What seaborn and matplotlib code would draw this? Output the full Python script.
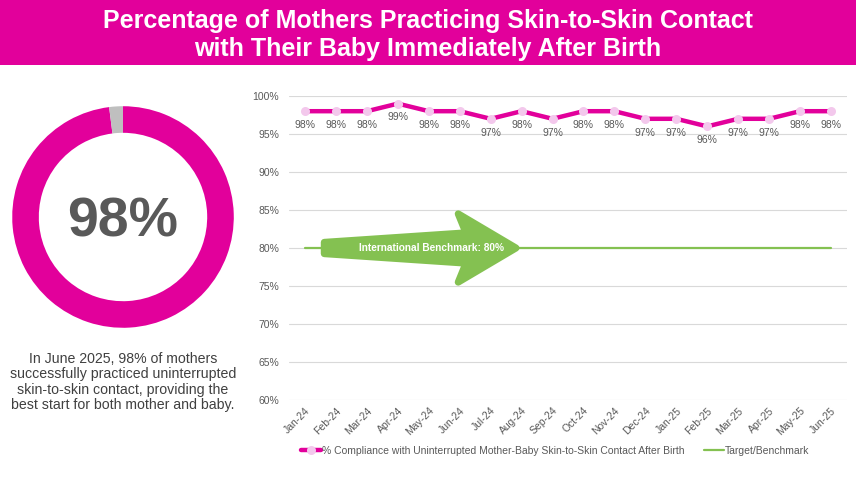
import numpy as np
import pandas as pd
import seaborn as sns
import matplotlib.pyplot as plt
from matplotlib.patches import Polygon, Rectangle

months = ['Jan-24', 'Feb-24', 'Mar-24', 'Apr-24', 'May-24', 'Jun-24', 'Jul-24', 'Aug-24', 'Sep-24',
          'Oct-24', 'Nov-24', 'Dec-24', 'Jan-25', 'Feb-25', 'Mar-25', 'Apr-25', 'May-25', 'Jun-25']
compliance = [98, 98, 98, 99, 98, 98, 97, 98, 97, 98, 98, 97, 97, 96, 97, 97, 98, 98]
benchmark = [80] * len(months)
latest = 98
series_label = '% Compliance with Uninterrupted Mother-Baby Skin-to-Skin Contact After Birth'
bench_label = 'Target/Benchmark'
title = 'Percentage of Mothers Practicing Skin-to-Skin Contact\nwith Their Baby Immediately After Birth'
caption = ('In June 2025, 98% of mothers\nsuccessfully practiced uninterrupted\n'
           'skin-to-skin contact, providing the\nbest start for both mother and baby.')

MAGENTA = '#E2009B'
PINK = '#F3C8EC'
GREEN = '#84C151'
GREY = '#595959'

sns.set_theme(style='white')
plt.rcParams['font.family'] = ['Liberation Sans', 'DejaVu Sans']

df = pd.DataFrame({'idx': np.arange(len(months)), 'month': months,
                   'value': compliance, 'bench': benchmark})

fig = plt.figure(figsize=(8.56, 4.82), dpi=100)

# title band
fig.patches.append(Rectangle((0, 1 - 65 / 482), 1, 65 / 482, transform=fig.transFigure,
                             facecolor=MAGENTA, edgecolor='none', zorder=0))
fig.text(0.5, 1 - 35 / 482, title, ha='center', va='center', color='white',
         fontsize=18, fontweight='bold', linespacing=1.22)

# donut
axd = fig.add_axes([(123 - 113) / 856, 1 - (217 + 113) / 482, 226 / 856, 226 / 482])
axd.pie([latest, 100 - latest], colors=[MAGENTA, '#BFBFBF'], startangle=90, counterclock=False,
        radius=1.0, wedgeprops=dict(width=0.24, edgecolor='none'))
axd.set_xlim(-1.02, 1.02)
axd.set_ylim(-1.02, 1.02)
axd.set_aspect('equal')
axd.axis('off')
axd.text(0, -0.05, f'{latest}%', ha='center', va='center', fontsize=40, fontweight='bold', color=GREY)

fig.text(123 / 856, 1 - 382 / 482, caption, ha='center', va='center', fontsize=10.2,
         color='#404040', linespacing=1.13)

# line chart
ax = fig.add_axes([289 / 856, 1 - 400 / 482, (847 - 289) / 856, (400 - 96) / 482])
sns.lineplot(data=df, x='idx', y='value', ax=ax, color=MAGENTA, linewidth=3.2,
             marker='o', markersize=6.5, markerfacecolor=PINK, markeredgewidth=0,
             label=series_label, zorder=4)
sns.lineplot(data=df, x='idx', y='bench', ax=ax, color=GREEN, linewidth=1.6,
             label=bench_label, zorder=2)

for i, v in zip(df['idx'], df['value']):
    ax.annotate(f'{v}%', (i, v), xytext=(0, -10), textcoords='offset points',
                ha='center', va='center', fontsize=7.5, color=GREY)

# benchmark arrow
arrow = Polygon([(0.62, 80.75), (5.2, 82.0), (4.95, 84.5), (6.82, 80.0),
                 (4.95, 75.5), (5.2, 78.0), (0.62, 79.25)],
                closed=True, facecolor=GREEN, edgecolor=GREEN, linewidth=5,
                joinstyle='round', zorder=3)
ax.add_patch(arrow)
ax.text(4.1, 80, 'International Benchmark: 80%', ha='center', va='center',
        fontsize=7.3, fontweight='bold', color='white', zorder=5)

ax.set_xlim(-0.52, len(months) - 0.48)
ax.set_ylim(60, 100)
ax.set_yticks(range(60, 101, 5))
ax.set_yticklabels([f'{t}%' for t in range(60, 101, 5)])
ax.set_xticks(df['idx'])
ax.set_xticklabels(months, rotation=45, ha='right', rotation_mode='anchor')
ax.tick_params(axis='both', labelsize=7.5, colors=GREY, length=0)
ax.tick_params(axis='y', pad=7)
ax.tick_params(axis='x', pad=4)
ax.grid(axis='y', color='#D9D9D9', linewidth=0.8)
ax.set_xlabel('')
ax.set_ylabel('')
for s in ax.spines.values():
    s.set_visible(False)

ax.legend(loc='center', bbox_to_anchor=(0.477, -0.168), ncol=2, frameon=False,
          fontsize=7.5, labelcolor=GREY, handlelength=1.9, handletextpad=0.1, columnspacing=1.9)

fig.savefig('out.png', dpi=100)
